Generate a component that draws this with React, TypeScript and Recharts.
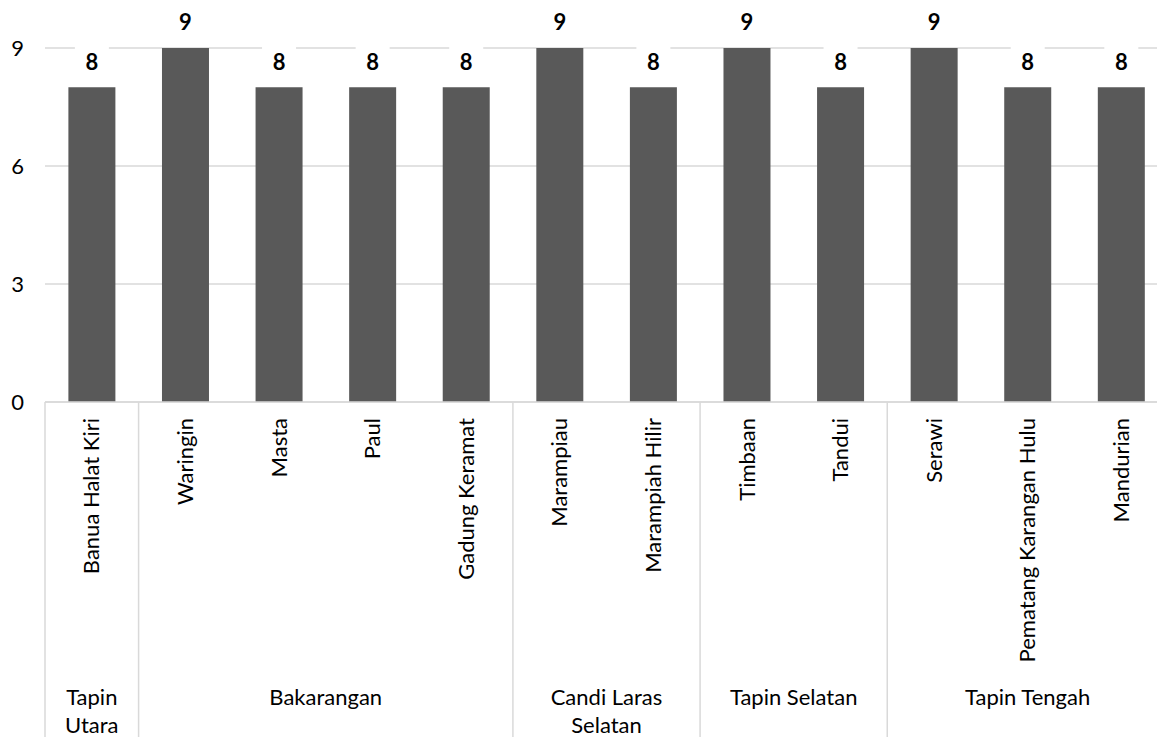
import React from "react";
import { BarChart, Bar, XAxis, YAxis, CartesianGrid, LabelList } from "recharts";

const villages = [
  "Banua Halat Kiri",
  "Waringin",
  "Masta",
  "Paul",
  "Gadung Keramat",
  "Marampiau",
  "Marampiah Hilir",
  "Timbaan",
  "Tandui",
  "Serawi",
  "Pematang Karangan Hulu",
  "Mandurian",
];
const districts = [
  "Tapin Utara",
  "Bakarangan",
  "Bakarangan",
  "Bakarangan",
  "Bakarangan",
  "Candi Laras Selatan",
  "Candi Laras Selatan",
  "Tapin Selatan",
  "Tapin Selatan",
  "Tapin Tengah",
  "Tapin Tengah",
  "Tapin Tengah",
];
const counts = [8, 9, 8, 8, 8, 9, 8, 9, 8, 9, 8, 8];
const yTicks = [0, 3, 6, 9];

const data = villages.map((name, i) => ({ name, district: districts[i], value: counts[i] }));

const CHART_W = 1180;
const CHART_H = 760;
const Y_W = 45;
const M = { top: 48, right: 12, left: 0, bottom: 0 };
const PLOT_H = 354;
const PLOT_BOTTOM = M.top + PLOT_H;
const BW = (CHART_W - Y_W - M.right) / villages.length;
const FONT = "Lato, 'Open Sans', sans-serif";
const FS = 22;
const LINE = "#d9d9d9";

// crude word wrap for the district labels
function wrap(text: string, maxW: number) {
  const words = text.split(" ");
  const lines: string[] = [];
  let cur = "";
  for (const w of words) {
    const next = cur ? cur + " " + w : w;
    if (next.length * 10.5 > maxW && cur) {
      lines.push(cur);
      cur = w;
    } else cur = next;
  }
  if (cur) lines.push(cur);
  return lines;
}

function CategoryTick(props: any) {
  const { x, index, payload } = props;
  const i = index ?? payload.index;
  const d = districts[i];
  const isStart = i === 0 || districts[i - 1] !== d;
  const isLast = i === villages.length - 1;
  let size = 0;
  if (isStart) {
    for (let k = i; k < districts.length && districts[k] === d; k++) size++;
  }
  const left = x - BW / 2;
  const lines = isStart ? wrap(d, size * BW - 10) : [];
  return (
    <g>
      <text
        x={x}
        y={418}
        transform={`rotate(-90, ${x}, 418)`}
        textAnchor="end"
        dy="0.35em"
        fontFamily={FONT}
        fontSize={FS}
        fill="#000"
      >
        {payload.value}
      </text>
      {isStart && (
        <line x1={left} x2={left} y1={PLOT_BOTTOM} y2={CHART_H} stroke={LINE} strokeWidth={1.5} />
      )}
      {isLast && (
        <line x1={x + BW / 2} x2={x + BW / 2} y1={PLOT_BOTTOM} y2={CHART_H} stroke={LINE} strokeWidth={1.5} />
      )}
      {lines.map((ln, j) => (
        <text
          key={j}
          x={left + (size * BW) / 2}
          y={705 + j * 28}
          textAnchor="middle"
          fontFamily={FONT}
          fontSize={FS}
          fill="#000"
        >
          {ln}
        </text>
      ))}
    </g>
  );
}

function ValueLabel(props: any) {
  const { x, y, width, value } = props;
  const cx = x + width / 2;
  const cy = y - 25.5;
  return (
    <g>
      <rect x={cx - 17} y={cy - 16} width={34} height={32} fill="#fff" />
      <text
        x={cx}
        y={cy}
        dy="0.36em"
        textAnchor="middle"
        fontFamily={FONT}
        fontSize={FS}
        fontWeight="bold"
        fill="#000"
      >
        {value}
      </text>
    </g>
  );
}

export default function App() {
  return (
    <div
      style={{
        position: "absolute",
        left: 0,
        top: 0,
        width: 1157,
        height: 737,
        overflow: "hidden",
        background: "#fff",
      }}
    >
      <BarChart width={CHART_W} height={CHART_H} data={data} margin={M} barCategoryGap="25%">
        <CartesianGrid vertical={false} stroke={LINE} strokeWidth={1.5} />
        <XAxis
          dataKey="name"
          interval={0}
          height={CHART_H - PLOT_BOTTOM}
          axisLine={{ stroke: LINE, strokeWidth: 1.5 }}
          tickLine={false}
          tick={<CategoryTick />}
        />
        <YAxis
          domain={[0, 9]}
          ticks={yTicks}
          width={Y_W}
          axisLine={false}
          tickLine={false}
          tickSize={0}
          tickMargin={21}
          tick={{ fontFamily: FONT, fontSize: FS, fill: "#000" }}
        />
        <Bar dataKey="value" fill="#595959" isAnimationActive={false}>
          <LabelList dataKey="value" content={<ValueLabel />} />
        </Bar>
      </BarChart>
    </div>
  );
}
